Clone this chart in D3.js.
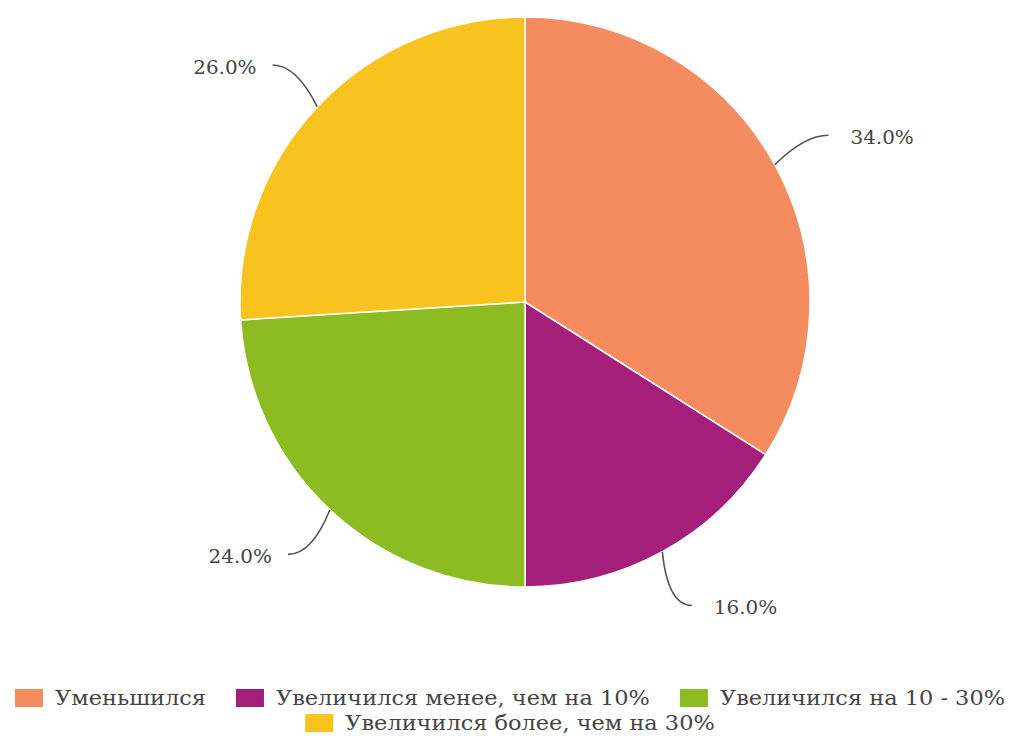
<!DOCTYPE html>
<html><head><meta charset="utf-8">
<script src="https://cdn.jsdelivr.net/npm/d3@7"></script>
<style>body{margin:0;background:#fff}</style>
</head><body>
<svg id="c" width="1016" height="738"></svg>
<script>
const categories = ["Уменьшился","Увеличился менее, чем на 10%","Увеличился на 10 - 30%","Увеличился более, чем на 30%"];
const values = [34.0, 16.0, 24.0, 26.0];
const colors = ["#F48C5F","#A41F79","#8DBB22","#F8C21F"];

const svg = d3.select("#c");
const font = "DejaVu Serif";
const cx = 525, cy = 302, r = 285;
const g = svg.append("g").attr("transform",`translate(${cx},${cy})`);
const arcs = d3.pie().sort(null).value(d=>d)(values);
const arc = d3.arc().innerRadius(0).outerRadius(r);

g.selectAll("path.slice").data(arcs).join("path").attr("class","slice")
  .attr("d",arc).attr("fill",(d,i)=>colors[i])
  .attr("stroke","#fff").attr("stroke-width",1.5);

// widen a text element horizontally while keeping its glyph height
function widen(sel, k){
  sel.each(function(){
    const w = this.getComputedTextLength();
    d3.select(this).attr("textLength", w*k).attr("lengthAdjust","spacingAndGlyphs");
  });
  return sel;
}

// curved leader lines from each slice edge to its percentage label
const mid = d => (d.startAngle + d.endAngle)/2;
const pt = (a, rad) => [Math.sin(a)*rad, -Math.cos(a)*rad];
const leaders = g.append("g");
arcs.forEach((d,i)=>{
  const a = mid(d);
  const s = pt(a, r);
  const e = pt(a, r*1.215);
  const side = e[0] >= 0 ? 1 : -1;
  const c = [e[0] - side*24, e[1]];
  leaders.append("path")
    .attr("d",`M${s[0]},${s[1]}Q${c[0]},${c[1]} ${e[0]},${e[1]}`)
    .attr("fill","none").attr("stroke","#555").attr("stroke-width",1.6);
  const t = leaders.append("text")
    .attr("y", e[1]+4)
    .attr("dominant-baseline","middle")
    .style("font-family",font).style("font-size","19px").attr("fill","#444")
    .text(d3.format(".1f")(values[i])+"%");
  widen(t, 1.05);
  const w = +t.attr("textLength");
  t.attr("x", side>0 ? e[0]+22 : e[0]-16-w);
});

// legend, wrapped into centred rows
const legend = svg.append("g");
const sw = 28, sh = 18, gapSym = 12, gapItem = 30, maxW = 1000, rowH = 25, legendY = 698, centerX = 510;
const items = categories.map((name,i)=>{
  const it = legend.append("g");
  it.append("rect").attr("width",sw).attr("height",sh).attr("y",-sh/2).attr("fill",colors[i]);
  const t = it.append("text").attr("x",sw+gapSym).attr("y",1)
    .attr("dominant-baseline","middle")
    .style("font-family",font).style("font-size","20.5px").attr("fill","#444").text(name);
  widen(t, 1.095);
  return {g:it, w: sw+gapSym+(+t.attr("textLength"))};
});
const rows = [[]]; let rw = 0;
items.forEach(it=>{
  const add = (rows[rows.length-1].length ? gapItem : 0) + it.w;
  if (rw + add > maxW && rows[rows.length-1].length){ rows.push([it]); rw = it.w; }
  else { rows[rows.length-1].push(it); rw += add; }
});
rows.forEach((row,ri)=>{
  const total = d3.sum(row,d=>d.w) + gapItem*(row.length-1);
  let x = centerX - total/2;
  row.forEach(it=>{
    it.g.attr("transform",`translate(${x},${legendY + ri*rowH})`);
    x += it.w + gapItem;
  });
});
</script>
</body></html>
